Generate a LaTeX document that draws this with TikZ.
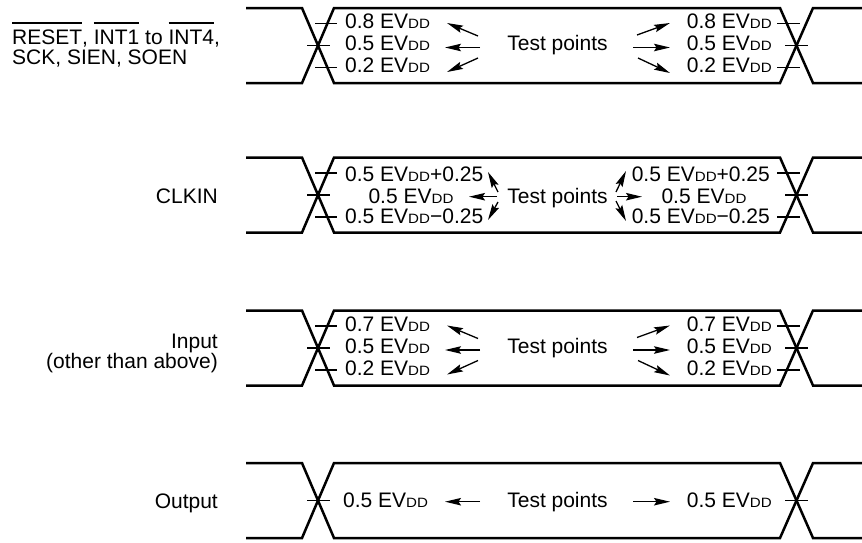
\documentclass[tikz,border=0pt]{standalone}
\usepackage{fontspec}
\setmainfont{Liberation Sans}
\newfontfamily\ddfont{Liberation Sans}[FakeStretch=1.12]
\usetikzlibrary{arrows.meta}
\newcommand{\myDD}{{\ddfont\fontsize{13.5}{13.5}\selectfont DD}}
\newcommand{\EVdd}{EV\myDD}
\newcommand{\myovl}[1]{\setbox0=\hbox{#1}\rlap{\rule[21pt]{\wd0}{1.3pt}}\box0\relax}
\begin{document}
\begin{tikzpicture}[x=1pt,y=-1pt,
  wave/.style={line width=2.5pt, line join=miter},
  tickmark/.style={line width=1.3pt},
  arr/.style={line width=1.3pt, -{Stealth[length=16pt,width=7.5pt,inset=2.5pt]}},
  txt/.style={inner sep=0pt, font=\fontsize{21}{21}\selectfont},
]
\useasboundingbox (0,0) rectangle (862,542);

% waveforms
\foreach \yc in {45.5,195,348,500.5}{
  \draw[wave] (246,\yc-37.5) -- (302,\yc-37.5) -- (334,\yc+37.5) -- (780,\yc+37.5) -- (813,\yc-37.5) -- (862,\yc-37.5);
  \draw[wave] (246,\yc+37.5) -- (302,\yc+37.5) -- (334,\yc-37.5) -- (780,\yc-37.5) -- (813,\yc+37.5) -- (862,\yc+37.5);
  \draw[tickmark] (307,\yc) -- (330,\yc);
  \draw[tickmark] (785,\yc) -- (808,\yc);
}
\foreach \yc in {45.5,195,348}{
  \draw[tickmark] (315,\yc-22) -- (337,\yc-22);
  \draw[tickmark] (315,\yc+22) -- (337,\yc+22);
  \draw[tickmark] (777,\yc-22) -- (800,\yc-22);
  \draw[tickmark] (777,\yc+22) -- (800,\yc+22);
}

% left signal names
\node[txt, anchor=base west] (n1a) at (12,44.5) {\myovl{RESET}, \myovl{INT1} to \myovl{INT4},};
\node[txt, anchor=base west] (n1b) at (12,64.5) {SCK, SIEN, SOEN};
\node[txt, anchor=base east] (n2) at (218,203) {CLKIN};
\node[txt, anchor=base east] (n3a) at (218,348) {Input};
\node[txt, anchor=base east] (n3b) at (218,368.5) {(other than above)};
\node[txt, anchor=base east] (n4) at (218,508) {Output};

% waveform 1 and 3
\foreach \yc/\hi/\n in {45.5/0.8/a, 348/0.7/c}{
  \node[txt, anchor=base west] (\n lu) at (345,\yc-17) {\hi\ \EVdd};
  \node[txt, anchor=base west] (\n lm) at (345,\yc+5.3) {0.5 \EVdd};
  \node[txt, anchor=base west] (\n ld) at (345,\yc+27) {0.2 \EVdd};
  \node[txt, anchor=base east] (\n ru) at (772,\yc-17) {\hi\ \EVdd};
  \node[txt, anchor=base east] (\n rm) at (772,\yc+5.3) {0.5 \EVdd};
  \node[txt, anchor=base east] (\n rd) at (772,\yc+27) {0.2 \EVdd};
  \node[txt, anchor=base] (\n tp) at (557.5,\yc+5.3) {Test points};
  \coordinate (\n s1) at (478,\yc-9.5);  \coordinate (\n t1) at (447,\yc-22.5);
  \coordinate (\n s2) at (480,\yc+2);    \coordinate (\n t2) at (445,\yc+2);
  \coordinate (\n s3) at (478,\yc+12.5); \coordinate (\n t3) at (447,\yc+26.5);
  \coordinate (\n s4) at (637,\yc-10.5); \coordinate (\n t4) at (670,\yc-22.5);
  \coordinate (\n s5) at (633,\yc+2);    \coordinate (\n t5) at (670,\yc+2);
  \coordinate (\n s6) at (638,\yc+12.5); \coordinate (\n t6) at (670,\yc+27.5);
  \foreach \k in {1,...,6}{ \draw[arr] (\n s\k) -- (\n t\k); }
}

% waveform 2 (CLKIN)
\node[txt, anchor=base west] (blu) at (345,181.7) {0.5 \EVdd+0.25};
\node[txt, anchor=base] (blm) at (411,203.3) {0.5 \EVdd};
\node[txt, anchor=base west] (bld) at (345,223) {0.5 \EVdd−0.25};
\node[txt, anchor=base east] (bru) at (770,181.7) {0.5 \EVdd+0.25};
\node[txt, anchor=base] (brm) at (704,203.3) {0.5 \EVdd};
\node[txt, anchor=base east] (brd) at (770,223) {0.5 \EVdd−0.25};
\node[txt, anchor=base] (btp) at (557.5,203.3) {Test points};
\coordinate (bs1) at (498,192);   \coordinate (bt1) at (488,172);
\coordinate (bs2) at (497,196.7); \coordinate (bt2) at (469,196.7);
\coordinate (bs3) at (498,202);   \coordinate (bt3) at (488,220);
\coordinate (bs4) at (616,192);   \coordinate (bt4) at (626,171);
\coordinate (bs5) at (617,196.7); \coordinate (bt5) at (642,196.7);
\coordinate (bs6) at (616,201);   \coordinate (bt6) at (626,221);
\foreach \k in {1,...,6}{ \draw[arr] (bs\k) -- (bt\k); }

% waveform 4 (Output)
\node[txt, anchor=base west] (dlm) at (343,507) {0.5 \EVdd};
\node[txt, anchor=base east] (drm) at (772,507) {0.5 \EVdd};
\node[txt, anchor=base] (dtp) at (557.5,507) {Test points};
\coordinate (ds1) at (480,501.7); \coordinate (dt1) at (445,501.7);
\coordinate (ds2) at (633,501.7); \coordinate (dt2) at (670,501.7);
\draw[arr] (ds1) -- (dt1);
\draw[arr] (ds2) -- (dt2);
\end{tikzpicture}
\end{document}
